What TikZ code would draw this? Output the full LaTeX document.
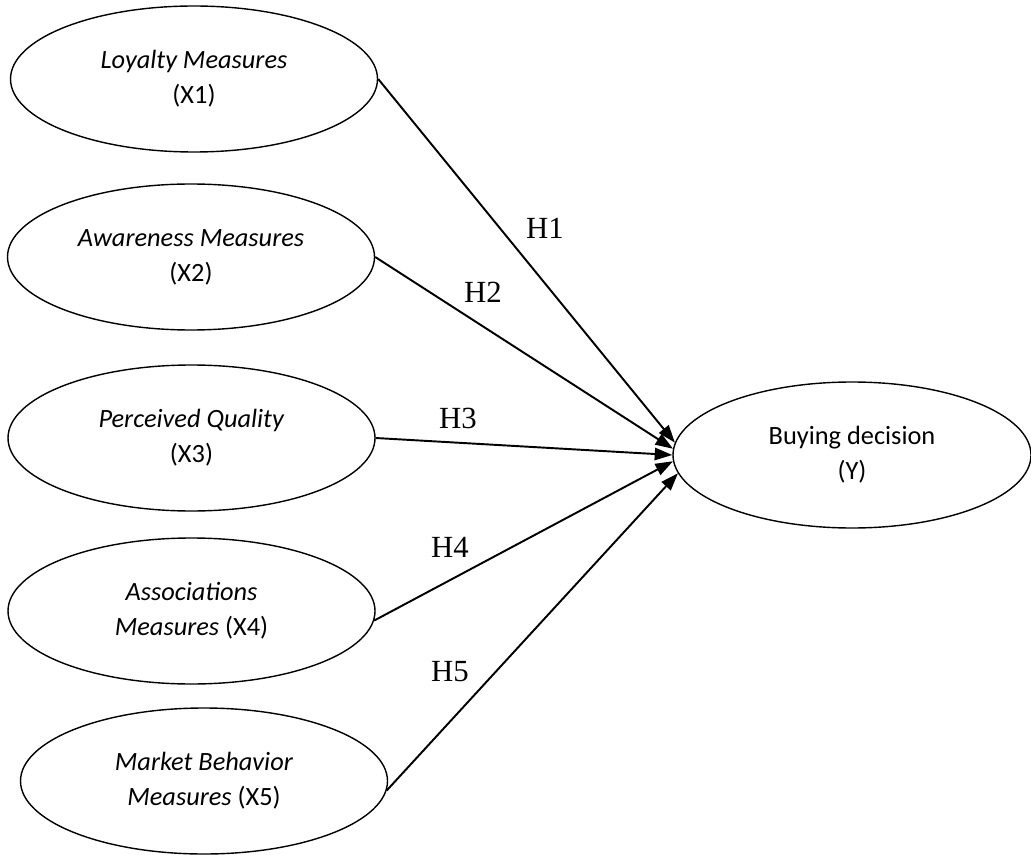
\documentclass[tikz,border=0pt]{standalone}
\usepackage{fontspec}
\setmainfont{Liberation Serif}
\newfontfamily\calibri{Carlito}
\usetikzlibrary{shapes.geometric,arrows.meta}

\begin{document}
\begin{tikzpicture}[
        construct/.style={ellipse, draw, line width=0.8pt, inner sep=0pt,
            minimum width=7.34cm, minimum height=2.92cm, align=center,
            font=\calibri\fontsize{15}{19.8}\selectfont},
        hyp/.style={-{Triangle[length=10pt,width=7pt]}, line width=1.1pt},
        hlabel/.style={font=\fontsize{17.5}{20}\selectfont, inner sep=0pt}]
            \useasboundingbox (0,0) rectangle (20.62,17.08);
            \node[construct] (X1) at (3.88,15.50) {\textit{Loyalty Measures}\\(X1)};
            \node[construct] (X2) at (3.82,11.94) {\textit{Awareness Measures}\\(X2)};
            \node[construct] (X3) at (3.83,8.32) {\textit{Perceived Quality}\\(X3)};
            \node[construct] (X4) at (3.83,4.86) {\textit{Associations}\\\textit{Measures} (X4)};
            \node[construct] (X5) at (4.08,1.46) {\textit{Market Behavior}\\\textit{Measures} (X5)};
            \node[construct, minimum width=7.16cm] (Y) at (17.04,7.98) {Buying decision\\(Y)};
            \draw[hyp] (X1.east) -- (Y.176);
            \draw[hyp] (X2.east) -- (Y.178);
            \draw[hyp] (X3.east) -- (Y.180);
            \draw[hyp] (X4.-3) -- (Y.182.5);
            \draw[hyp] (X5.-3) -- (Y.186);
            \node[hlabel] (H1) at (10.90,12.52) {H1};
            \node[hlabel] (H2) at (9.66,11.24) {H2};
            \node[hlabel] (H3) at (9.16,8.72) {H3};
            \node[hlabel] (H4) at (9.00,6.14) {H4};
            \node[hlabel] (H5) at (9.00,3.64) {H5};
        \end{tikzpicture}
\end{document}
